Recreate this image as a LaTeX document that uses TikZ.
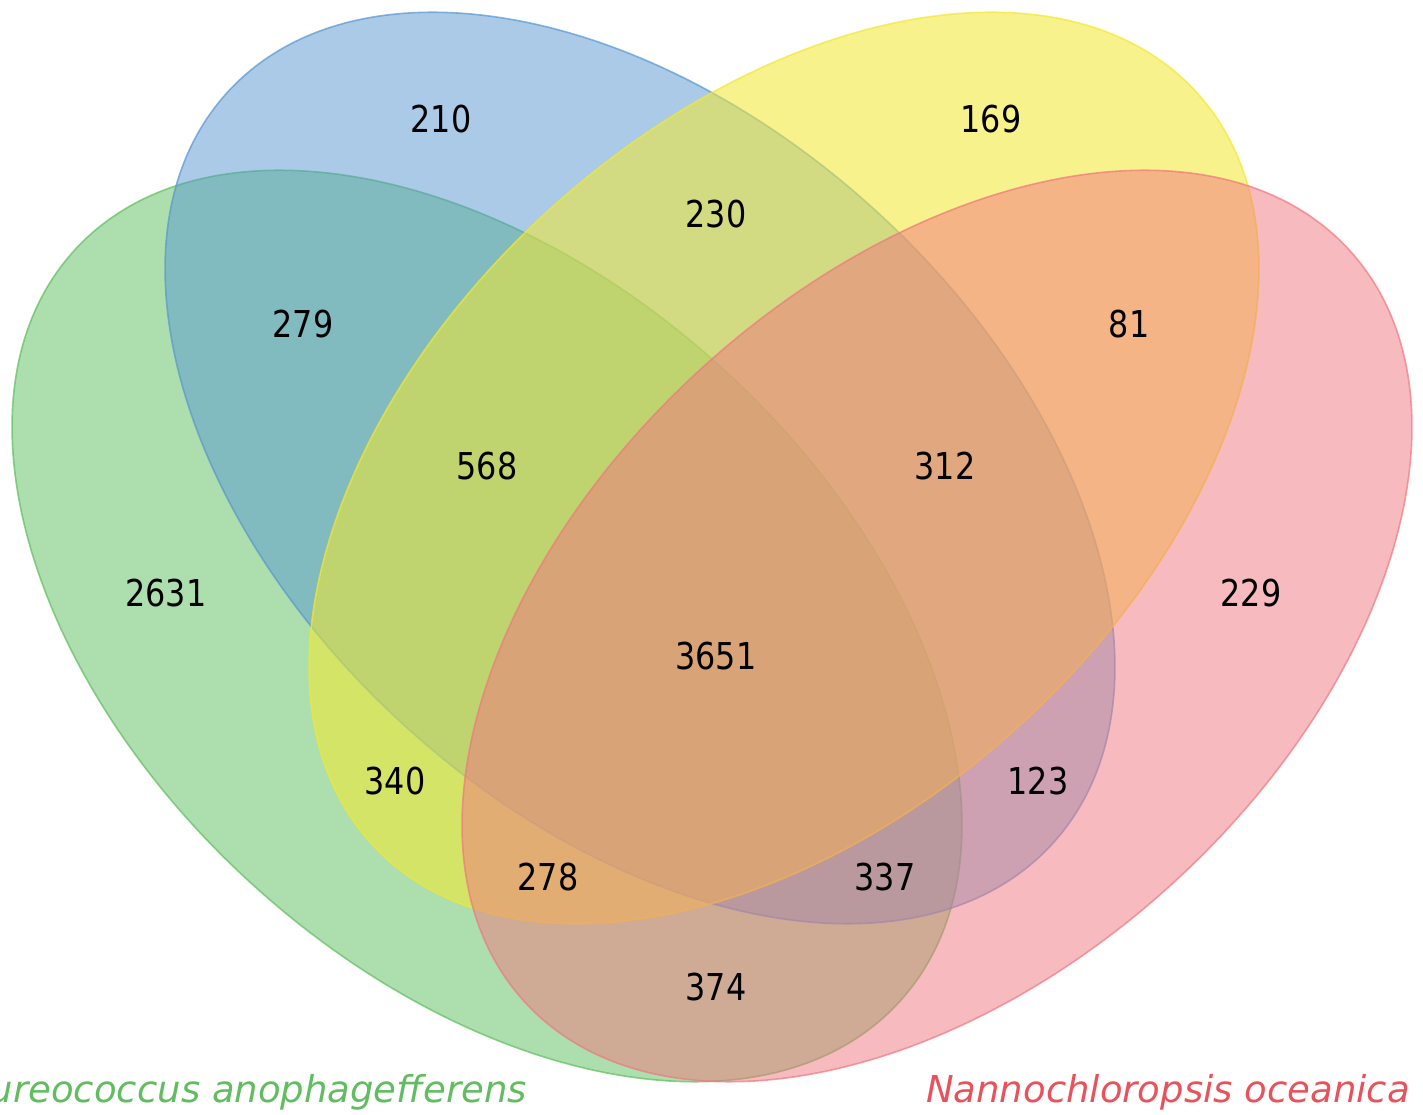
\documentclass[tikz,border=0pt]{standalone}
\usepackage{fontspec}
\setmainfont{DejaVu Sans}
\newfontfamily\numfont[FakeStretch=0.86]{DejaVu Sans}
\definecolor{cblue}{RGB}{87,151,209}
\definecolor{cgreen}{RGB}{93,191,93}
\definecolor{cyellow}{RGB}{243,233,47}
\definecolor{cred}{RGB}{241,119,127}
\definecolor{tgreen}{RGB}{98,188,98}
\definecolor{tred}{RGB}{232,82,92}
\tikzset{
  setshape/.style={fill=#1, fill opacity=0.5, draw=#1, draw opacity=0.7, line width=1.6pt},
  num/.style={inner sep=0pt, font=\numfont\fontsize{37}{44}\selectfont, text=black},
  setlabel/.style={inner sep=0pt, font=\itshape\fontsize{37}{44}\selectfont}
}
\begin{document}
\begin{tikzpicture}[x=1pt,y=1pt]
\useasboundingbox (0,0) rectangle (1423,1115);
\fill[white] (0,0) rectangle (1423,1115);
% ellipses
\path[setshape=cgreen, shift={(487,489)}, rotate=-42.3] (0,0) ellipse [x radius=558pt, y radius=349pt];
\path[setshape=cblue, shift={(640,647)}, rotate=-42.3] (0,0) ellipse [x radius=558pt, y radius=349pt];
\path[setshape=cyellow, shift={(784,647)}, rotate=42.3, fill opacity=0.55] (0,0) ellipse [x radius=558pt, y radius=349pt];
\path[setshape=cred, shift={(937,489)}, rotate=42.3] (0,0) ellipse [x radius=558pt, y radius=349pt];
% counts
\node[num] (n210) at (441,996) {210};
\node[num] (n169) at (991,996) {169};
\node[num] (n230) at (716,901) {230};
\node[num] (n279) at (303,791) {279};
\node[num] (n81) at (1129,791) {81};
\node[num] (n568) at (487,649) {568};
\node[num] (n312) at (945,649) {312};
\node[num] (n2631) at (166,522) {2631};
\node[num] (n229) at (1251,522) {229};
\node[num] (n3651) at (716,459) {3651};
\node[num] (n340) at (395,334) {340};
\node[num] (n123) at (1038,334) {123};
\node[num] (n278) at (548,238) {278};
\node[num] (n337) at (885,238) {337};
\node[num] (n374) at (716,128) {374};
% set labels
\node[setlabel, text=tgreen, anchor=base east] (lgreen) at (527,12) {ureococcus anophagefferens};
\node[setlabel, text=tred, anchor=base east] (lred) at (1410,12) {Nannochloropsis oceanica};
\end{tikzpicture}
\end{document}
